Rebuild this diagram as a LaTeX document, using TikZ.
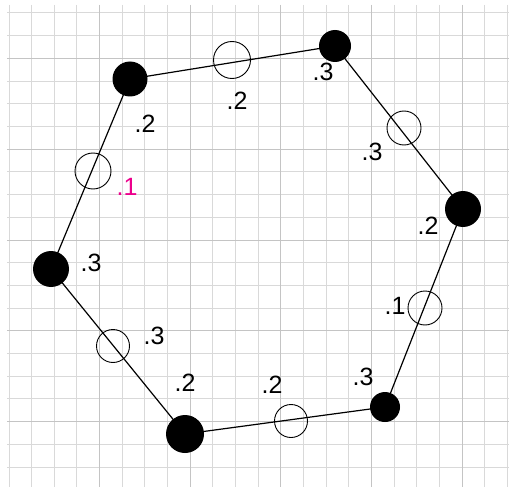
\documentclass[tikz,border=0pt]{standalone}
\usepackage{fontspec}
\setmainfont{Liberation Sans}
\usetikzlibrary{shapes}
\tikzstyle{minorgrid}=[draw=black!15,line width=1pt]
\tikzstyle{majorgrid}=[draw=black!23,line width=1pt]
\tikzstyle{vtx}=[circle,fill=black,inner sep=0pt]
\tikzstyle{ring}=[circle,draw=black,line width=0.9pt,inner sep=0pt]
\tikzstyle{wt}=[inner sep=0pt,font=\fontsize{25}{25}\selectfont]
\tikzstyle{edge}=[line width=1.2pt]

\begin{document}
\begin{tikzpicture}[x=1pt,y=-1pt]
\useasboundingbox (0,0) rectangle (509,487);
% grid paper
\foreach \i in {0,...,22} {\draw[minorgrid] ({9+22.65*\i},5) -- ({9+22.65*\i},487);}
\foreach \j in {0,...,21} {\draw[minorgrid] (7,{13+22.7*\j}) -- (509,{13+22.7*\j});}
\foreach \i in {4,8,...,20} {\draw[majorgrid] ({9+22.65*\i},5) -- ({9+22.65*\i},487);}
\foreach \j in {2,6,...,18} {\draw[majorgrid] (7,{13+22.7*\j}) -- (509,{13+22.7*\j});}
% vertices
\node[vtx,minimum size=35pt] (A) at (130,79) {};
\node[vtx,minimum size=32pt] (B) at (335,46) {};
\node[vtx,minimum size=36pt] (C) at (463,209) {};
\node[vtx,minimum size=30pt] (D) at (385,407) {};
\node[vtx,minimum size=38pt] (E) at (185,434) {};
\node[vtx,minimum size=36pt] (F) at (51,269) {};
\draw[edge](A.center)--(B.center);\draw[edge](B.center)--(C.center);\draw[edge](C.center)--(D.center);
\draw[edge](D.center)--(E.center);\draw[edge](E.center)--(F.center);\draw[edge](F.center)--(A.center);
% open circles on the edges
\node[ring,minimum size=37pt] (AB) at (232,60) {};
\node[ring,minimum size=34pt] (BC) at (404,128) {};
\node[ring,minimum size=34pt] (CD) at (425,308) {};
\node[ring,minimum size=33pt] (DE) at (291,421) {};
\node[ring,minimum size=33pt] (EF) at (113,346) {};
\node[ring,minimum size=36pt] (FA) at (93,171) {};
% weights
\node[wt] (wA) at (145,124) {.2};
\node[wt] (wAB) at (237,101) {.2};
\node[wt] (wB) at (323,72) {.3};
\node[wt] (wBC) at (372,152) {.3};
\node[wt] (wC) at (428,226) {.2};
\node[wt] (wCD) at (395,306) {.1};
\node[wt] (wD) at (363,377) {.3};
\node[wt] (wDE) at (272,385) {.2};
\node[wt] (wE) at (185,383) {.2};
\node[wt] (wEF) at (154,336) {.3};
\node[wt] (wF) at (91,263) {.3};
\node[wt,text=magenta] (wFA) at (127,187) {.1};
\end{tikzpicture}
\end{document}
